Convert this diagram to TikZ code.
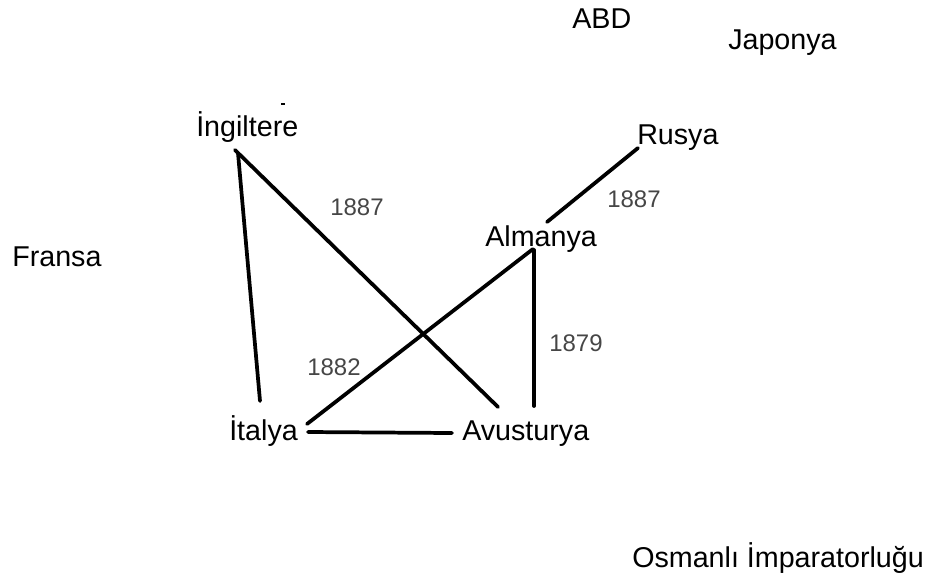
\documentclass[tikz,border=0pt]{standalone}
\usepackage{fontspec}
\setmainfont{Liberation Sans}
\definecolor{yeargray}{RGB}{70,70,70}
\tikzset{
  country/.style={anchor=base west, inner sep=0pt, font=\fontsize{21.5}{25}\selectfont},
  year/.style={anchor=base west, inner sep=0pt, text=yeargray, font=\fontsize{18}{22}\selectfont},
  pact/.style={line width=2.8pt, line cap=round, black}
}
\begin{document}
\begin{tikzpicture}[x=0.75pt, y=-0.75pt]
\useasboundingbox (0,0) rectangle (937,579);
% countries
\node[country] (abd) at (572,28) {ABD};
\node[country] (jap) at (728,49) {Japonya};
\node[country] (ing) at (196,136) {İngiltere};
\node[country] (rus) at (637,144) {Rusya};
\node[country] (alm) at (485,246) {Almanya};
\node[country] (fra) at (12,266) {Fransa};
\node[country] (ita) at (229,440) {İtalya};
\node[country] (avu) at (462,440) {Avusturya};
\node[country] (osm) at (632,567) {Osmanlı İmparatorluğu};
% years
\node[year] (y1) at (330,215) {1887};
\node[year] (y2) at (607,207) {1887};
\node[year] (y3) at (549,351) {1879};
\node[year] (y4) at (307,375) {1882};
% line end points
\coordinate (ingA) at (235,150);
\coordinate (ingB) at (238,153);
\coordinate (avuI) at (498,407);
\coordinate (itaI) at (260,401);
\coordinate (rusE) at (638,148);
\coordinate (almR) at (547,222);
\coordinate (almA) at (533,249);
\coordinate (almB) at (534,250);
\coordinate (itaA) at (307,424);
\coordinate (avuA) at (534,406);
\coordinate (itaH) at (308,432);
\coordinate (avuH) at (452,433);
\coordinate (markA) at (281,104);
\coordinate (markB) at (285,104);
% alliances
\draw[pact] (ingA) -- (avuI);
\draw[pact] (ingB) -- (itaI);
\draw[pact] (rusE) -- (almR);
\draw[pact] (almA) -- (itaA);
\draw[pact] (almB) -- (avuA);
\draw[pact] (itaH) -- (avuH);
\draw[line width=1pt] (markA) -- (markB);
\end{tikzpicture}
\end{document}
